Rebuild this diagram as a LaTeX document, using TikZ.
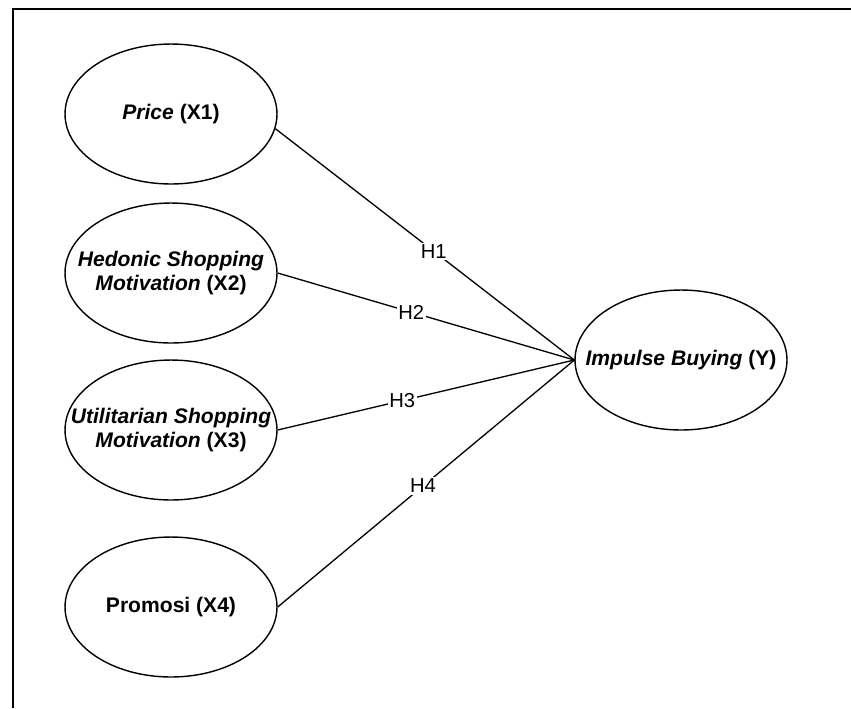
\documentclass[tikz,border=0pt]{standalone}
\usepackage{fontspec}
\setmainfont{Liberation Sans}
\usetikzlibrary{shapes,positioning}

\begin{document}
\begin{tikzpicture}[x=0.02cm, y=-0.02cm,
  construct/.style={draw, ellipse, line width=0.8pt, minimum width=4.24cm, minimum height=2.8cm,
    inner xsep=-1.2cm, inner ysep=0pt, align=center,
    font=\fontsize{12}{14}\selectfont\bfseries},
  path/.style={line width=0.75pt},
  hyp/.style={fill=white, inner sep=1pt, font=\fontsize{11.5}{12}\selectfont}]
\useasboundingbox (0,0) rectangle (851,708);
% Frame
\draw[line width=0.8pt] (13,708) -- (13,9) -- (851,9);

% Independent variables
\node[construct] (x1) at (171,114) {\textit{Price} (X1)};
\node[construct] (x2) at (171,273) {\textit{Hedonic Shopping}\\\textit{Motivation} (X2)};
\node[construct] (x3) at (171,430) {\textit{Utilitarian Shopping}\\\textit{Motivation} (X3)};
\node[construct] (x4) at (171,607) {Promosi (X4)};

% Dependent variable
\node[construct] (y) at (681,360) {\textit{Impulse Buying} (Y)};

% Hypotheses
\draw[path] (x1.-8) -- node[hyp, pos=0.53] (h1) {H1} (y.west);
\draw[path] (x2.east) -- node[hyp, pos=0.45] (h2) {H2} (y.west);
\draw[path] (x3.east) -- node[hyp, pos=0.42] (h3) {H3} (y.west);
\draw[path] (x4.east) -- node[hyp, pos=0.49] (h4) {H4} (y.west);
\end{tikzpicture}
\end{document}
